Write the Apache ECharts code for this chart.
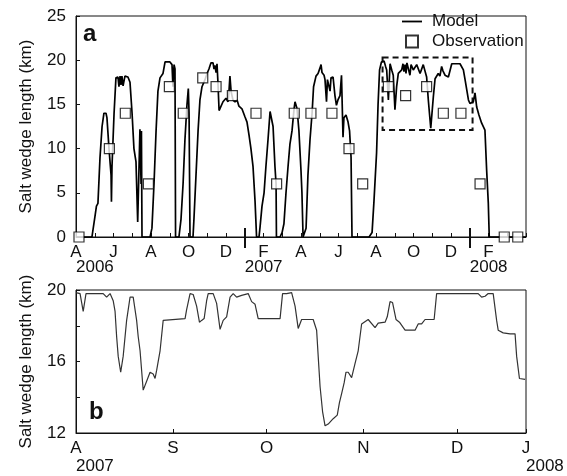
<!DOCTYPE html>
<html>
<head>
<meta charset="utf-8">
<script src="https://cdn.jsdelivr.net/npm/echarts@6/dist/echarts.min.js"></script>
<style>
  html, body { margin: 0; padding: 0; background: #fff; }
  #chart { width: 567px; height: 476px; }
</style>
</head>
<body>
<div id="chart"></div>
<script>
// panel a: months since 1 April 2006
var modelMonths = [
  0, 0.85, 0.91, 1.01, 1.06, 1.09, 1.17, 1.28, 1.39, 1.49, 1.6, 1.65, 1.76, 1.87, 1.89, 1.92,
  2.03, 2.13, 2.24, 2.29, 2.35, 2.4, 2.45, 2.51, 2.61, 2.77, 2.88, 2.99, 3.09, 3.2, 3.29, 3.41,
  3.47, 3.49, 3.52, 3.95, 4.05, 4.16, 4.27, 4.37, 4.48, 4.64, 4.75, 5.01, 5.12, 5.17, 5.23, 5.28,
  5.31, 5.49, 5.6, 5.71, 5.81, 5.92, 5.99, 6.03, 6.08, 6.24, 6.29, 6.4, 6.51, 6.61, 6.72, 6.88,
  6.99, 7.09, 7.2, 7.31, 7.36, 7.41, 7.47, 7.52, 7.57, 7.63, 7.73, 7.84, 8.0, 8.11, 8.16, 8.21,
  8.27, 8.37, 8.48, 8.59, 8.69, 8.85, 9.01, 9.12, 9.23, 9.33, 9.44, 9.55, 9.63, 9.76, 9.81, 9.92,
  10.03, 10.13, 10.24, 10.35, 10.43, 10.51, 10.61, 10.67, 10.69, 10.88, 10.99, 11.09, 11.2, 11.31, 11.41, 11.52,
  11.63, 11.68, 11.79, 11.89, 12.0, 12.05, 12.11, 12.21, 12.27, 12.37, 12.48, 12.59, 12.67, 12.8, 12.91, 13.01,
  13.07, 13.12, 13.23, 13.28, 13.36, 13.41, 13.49, 13.55, 13.6, 13.71, 13.81, 13.89, 13.97, 14.08, 14.16, 14.24,
  14.29, 14.4, 14.51, 14.59, 14.67, 14.72, 15.63, 15.79, 15.89, 16.03, 16.11, 16.19, 16.29, 16.43, 16.51, 16.57,
  16.66, 16.75, 16.85, 16.92, 17.01, 17.1, 17.19, 17.37, 17.44, 17.49, 17.55, 17.6, 17.65, 17.72, 17.81, 17.87,
  17.99, 18.17, 18.24, 18.35, 18.52, 18.7, 18.79, 18.92, 19.06, 19.15, 19.32, 19.41, 19.5, 19.57, 19.68, 19.86,
  20.04, 20.48, 20.66, 20.75, 20.93, 21.01, 21.19, 21.28, 21.37, 21.49, 21.63, 21.81, 21.9, 21.99, 22.04, 24
];
var modelKm = [
  0, 0, 0, 2.3, 2.5, 3.5, 3.8, 9, 12.5, 14, 14, 13.5, 10, 7, 4, 8,
  14, 18, 18.1, 17, 18.2, 17.2, 18.2, 17.1, 18.2, 18.1, 17.5, 14, 10, 8.5, 1.7, 12.2,
  6, 12, 0, 0, 1, 6, 12, 16.5, 18, 18.5, 19.8, 19.8, 19.5, 17, 19.5, 19,
  0, 0, 2, 6, 11, 15, 16.8, 14, 0, 0, 2, 7, 12, 15.5, 17, 17.8,
  18.5, 19, 19.7, 19.7, 19, 19.4, 18.6, 19.6, 17.5, 14.3, 14.5, 15.3, 15.7, 15.3, 16.5, 18.2,
  16.5, 15.5, 15.3, 15.5, 14.8, 14.5, 13.6, 13, 11.5, 10, 8, 4, 0, 0, 1, 3.5,
  5, 8, 11, 14.2, 14.2, 12.5, 8, 6, 0, 0, 0.5, 1.5, 5, 8, 10.5, 12,
  14.5, 15.3, 14.5, 12, 7.5, 5, 0, 0, 1, 7, 11, 14, 17, 18.2, 18.5, 19.1,
  19.5, 18.6, 18.3, 17.8, 15.3, 17.8, 17.9, 16.5, 18, 18.1, 16, 14.9, 15.5, 16, 18.3, 11.3,
  13.5, 13.8, 13, 12, 9, 0, 0, 0.5, 4, 9.5, 15, 18.9, 19.8, 19.9, 19.3, 18.9,
  15.5, 19.6, 18.8, 18.3, 14.4, 17, 18.5, 18.9, 19.6, 18.7, 19.5, 18.5, 19.7, 19.6, 18.3, 19.5,
  18.9, 19.5, 19.6, 18.5, 19.5, 18.1, 15.5, 12.3, 15.9, 17.9, 18.5, 18.2, 19.3, 18.8, 18.3, 18.1,
  19.6, 19.6, 18.9, 17.8, 15.5, 15.1, 15.3, 16.3, 14.7, 13.8, 12.9, 12.1, 7.6, 3.8, 0, 0
];
var obsMonths = [0.16, 1.78, 2.63, 3.86, 4.98, 5.72, 6.76, 7.47, 8.34, 9.6, 10.7, 11.64,
  12.53, 13.65, 14.56, 15.29, 16.66, 17.58, 18.7, 19.59, 20.53, 21.55, 22.84, 23.56];
var obsKm = [0, 10, 14, 6, 17, 14, 18, 17, 16, 14, 6, 14,
  14, 14, 10, 6, 17, 16, 17, 14, 14, 6, 0, 0];
var monthLetters = ['A', 'J', 'A', 'O', 'D', 'F', 'A', 'J', 'A', 'O', 'D', 'F'];
var yearNamesA = ['2006', '2007', '2008'];
var yearStartsA = [0, 9, 21];
var insetBox = [[16.35, 20.3], [21.15, 12.1]];

// panel b: days since 1 August 2007
var zoomDays = [
  0, 1.3, 2.3, 3.2, 3.9, 8.7, 9.8, 10.9, 11.9, 12.5, 13, 13.5, 14.3, 15.1, 16.2, 17.3,
  18.3, 19.4, 19.9, 20.5, 21, 21.5, 22.6, 23.7, 24.7, 25.3, 25.8, 26.9, 27.9, 28.5, 34.9, 35.4,
  36.5, 37.5, 38.6, 39.5, 40.2, 41, 41.8, 42.3, 43.9, 45, 46.1, 47.1, 48.2, 49.3, 50.3, 51.4,
  53, 55.1, 56.2, 57.3, 58.3, 65.3, 66.1, 67.4, 69, 70.1, 71.1, 72.2, 75.9, 77, 77.5, 78.1,
  78.9, 79.7, 80.7, 82.3, 83.6, 84.3, 85, 85.8, 86.4, 87.1, 88.2, 89.3, 90.3, 91.4, 91.9, 93.5,
  95.7, 96.7, 98.9, 99.6, 100.5, 101.3, 102.4, 103.5, 105.3, 108.5, 109.5, 110.6, 111.7, 114.6, 115.4, 116.5,
  128.7, 129.8, 130.9, 131.9, 133.5, 134.6, 135.1, 136.7, 138.9, 140.5, 141, 141.9, 143.7
];
var zoomKm = [
  19.85, 19.8, 18.8, 19.8, 19.8, 19.8, 19.6, 19.8, 19.4, 18.8, 17.4, 16.3, 15.4, 16.3, 18.3, 19.6,
  19.6, 18.3, 17.4, 16.6, 15.5, 14.4, 14.9, 15.4, 15.3, 15.05, 15.5, 16.6, 18.3, 18.4, 18.4, 18.9,
  19.8, 19.75, 19.1, 18.2, 18.3, 18.4, 19.4, 19.8, 19.8, 19.25, 17.8, 18.3, 18.5, 19.6, 19.8, 19.6,
  19.7, 19.8, 19.35, 19.2, 18.4, 18.4, 19.8, 19.8, 19.85, 19.1, 17.85, 18.35, 18.35, 17.75, 16.3, 14.6,
  13.2, 12.4, 12.5, 12.8, 13.0, 13.7, 14.2, 14.8, 15.4, 15.4, 15.1, 15.9, 16.6, 18.1, 18.2, 18.35,
  17.9, 18.15, 18.2, 18.5, 19.35, 19.3, 18.35, 18.2, 17.75, 17.75, 18.1, 18.1, 18.35, 18.35, 19.8, 19.8,
  19.8, 19.6, 19.65, 19.8, 19.8, 18.3, 17.75, 17.6, 17.55, 17.55, 16.3, 15.05, 15.0
];
var dayTicks = [0, 31, 61, 92, 122, 144];
var dayLetters = ['A', 'S', 'O', 'N', 'D', 'J'];
var yearNamesB = ['2007', '2008'];
var yearStartsB = [0, 144];

var chart = echarts.init(document.getElementById('chart'));
var font = "'Liberation Sans', Arial, sans-serif";
var ink = '#111';

function pairs(xs, ys) {
  return xs.map(function (x, i) { return [x, ys[i]]; });
}

var monthTicks = [];
for (let m = 0; m <= 24; m++) monthTicks.push(m);
var labelMonths = monthLetters.map(function (d, i) { return i * 2; });

function lbl(extra) {
  return Object.assign({ color: ink, fontSize: 17, fontFamily: font }, extra);
}

var option = {
  animation: false,
  textStyle: { fontFamily: font },
  title: [
    { text: 'a', left: 83, top: 22, padding: 0, textStyle: { fontSize: 24, fontWeight: 'bold', color: ink, fontFamily: font } },
    { text: 'b', left: 89, top: 400, padding: 0, textStyle: { fontSize: 24, fontWeight: 'bold', color: ink, fontFamily: font } }
  ],
  legend: {
    data: [
      { name: 'Model', icon: 'path://M0,0L20,0L20,1.8L0,1.8Z' },
      { name: 'Observation', icon: 'path://M0,0L12,0L12,12L0,12Z' }
    ],
    orient: 'vertical',
    left: 402,
    top: 13,
    padding: 0,
    itemGap: 3,
    itemWidth: 20,
    itemHeight: 12,
    textStyle: { color: ink, fontSize: 17, fontFamily: font, padding: [0, 0, 0, 5] }
  },
  grid: [
    { left: 76, top: 16, width: 450, height: 221, show: true, borderColor: ink, borderWidth: 1 },
    { left: 76, top: 290, width: 450, height: 143, show: true, borderColor: ink, borderWidth: 1 }
  ],
  xAxis: [
    {
      gridIndex: 0, type: 'value', min: 0, max: 24, position: 'bottom',
      splitLine: { show: false },
      axisLine: { lineStyle: { color: ink } },
      axisTick: { inside: true, length: 4, customValues: monthTicks, lineStyle: { color: ink } },
      axisLabel: lbl({
        customValues: labelMonths, margin: 7,
        formatter: function (v) { return monthLetters[Math.round(v / 2)]; }
      })
    },
    {
      gridIndex: 0, type: 'value', min: 0, max: 24, position: 'bottom',
      splitLine: { show: false },
      axisLine: { show: false },
      axisTick: { show: true, inside: false, length: 11, customValues: [9, 21], lineStyle: { color: ink, width: 2 } },
      axisLabel: lbl({
        customValues: yearStartsA, margin: 22, align: 'left',
        formatter: function (v) { return yearNamesA[yearStartsA.indexOf(v)]; }
      })
    },
    {
      gridIndex: 0, type: 'value', min: 0, max: 24, position: 'bottom',
      splitLine: { show: false },
      axisLine: { show: false },
      axisTick: { show: true, inside: true, length: 9, customValues: [9, 21], lineStyle: { color: ink, width: 2 } },
      axisLabel: { show: false }
    },
    {
      gridIndex: 1, type: 'value', min: 0, max: 144, position: 'bottom',
      splitLine: { show: false },
      axisLine: { lineStyle: { color: ink } },
      axisTick: { inside: true, length: 4, customValues: dayTicks, lineStyle: { color: ink } },
      axisLabel: lbl({
        customValues: dayTicks, margin: 7,
        formatter: function (v) { return dayLetters[dayTicks.indexOf(v)]; }
      })
    },
    {
      gridIndex: 1, type: 'value', min: 0, max: 144, position: 'bottom',
      splitLine: { show: false },
      axisLine: { show: false },
      axisTick: { show: false },
      axisLabel: lbl({
        customValues: yearStartsB, margin: 25, align: 'left',
        formatter: function (v) { return yearNamesB[yearStartsB.indexOf(v)]; }
      })
    }
  ],
  yAxis: [
    {
      gridIndex: 0, type: 'value', min: 0, max: 25, interval: 5,
      name: 'Salt wedge length (km)', nameLocation: 'middle', nameGap: 41,
      nameTextStyle: { color: ink, fontSize: 17, fontFamily: font },
      splitLine: { show: false },
      axisLine: { show: true, lineStyle: { color: ink } },
      axisTick: { show: true, inside: true, length: 4, lineStyle: { color: ink } },
      axisLabel: lbl({ margin: 10 })
    },
    {
      gridIndex: 1, type: 'value', min: 12, max: 20, interval: 2,
      name: 'Salt wedge length (km)', nameLocation: 'middle', nameGap: 41,
      nameTextStyle: { color: ink, fontSize: 17, fontFamily: font },
      splitLine: { show: false },
      axisLine: { show: true, lineStyle: { color: ink } },
      axisTick: { show: true, inside: true, length: 4, lineStyle: { color: ink } },
      axisLabel: lbl({
        margin: 10,
        formatter: function (v) { return (v - 12) % 4 === 0 ? String(v) : ''; }
      })
    }
  ],
  series: [
    {
      name: 'Model', type: 'line', xAxisIndex: 0, yAxisIndex: 0,
      data: pairs(modelMonths, modelKm),
      symbol: 'none',
      lineStyle: { color: '#000', width: 1.7 },
      itemStyle: { color: '#000' },
      z: 2,
      markArea: {
        silent: true,
        itemStyle: { color: 'rgba(0,0,0,0)', borderColor: '#111', borderWidth: 2, borderType: [6, 4] },
        label: { show: false },
        data: [[{ coord: insetBox[0] }, { coord: insetBox[1] }]]
      }
    },
    {
      name: 'Observation', type: 'scatter', xAxisIndex: 0, yAxisIndex: 0,
      data: pairs(obsMonths, obsKm),
      symbol: 'rect', symbolSize: 10,
      itemStyle: { color: '#fff', borderColor: '#000', borderWidth: 1.2 },
      z: 3
    },
    {
      name: 'Model (Aug-Dec 2007)', type: 'line', xAxisIndex: 3, yAxisIndex: 1,
      data: pairs(zoomDays, zoomKm),
      symbol: 'none',
      lineStyle: { color: '#333', width: 1.2 }
    }
  ]
};

chart.setOption(option);
</script>
</body>
</html>
